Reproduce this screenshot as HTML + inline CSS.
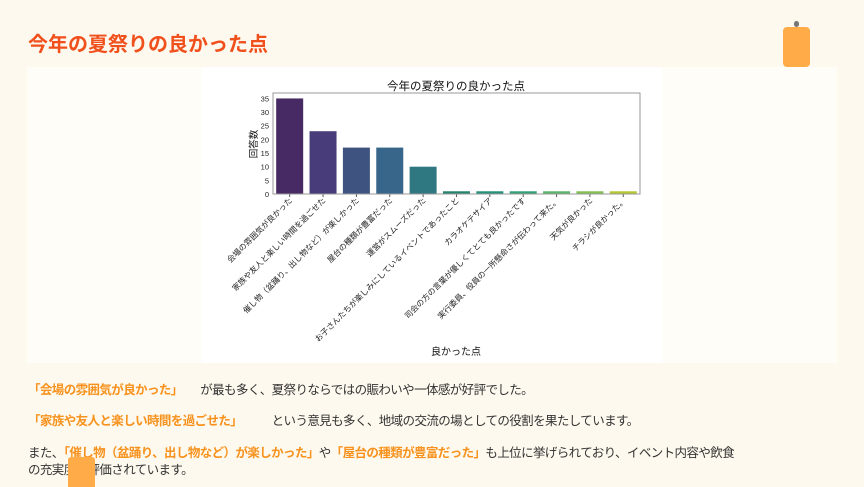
<!DOCTYPE html>
<html><head><meta charset="utf-8"><style>
body{margin:0;width:864px;height:486px;background:#fef9ee;font-family:"Liberation Sans","Noto Sans CJK JP",sans-serif;position:relative;overflow:hidden}
h1{position:absolute;left:28px;top:28px;margin:0;font-size:20px;font-weight:bold;color:#f0501c;letter-spacing:0px}
.panel{position:absolute;left:27px;top:67px;width:810px;height:296px;background:#fffdf7}
.chart{position:absolute;left:202px;top:67px;width:460px;height:296px;background:#fff}
.t{position:absolute;left:28px;font-size:12.5px;color:#333;white-space:nowrap;letter-spacing:-0.6px}
.o{color:#f7921e;font-weight:bold}
</style></head><body>
<h1>今年の夏祭りの良かった点</h1>
<div style="position:absolute;left:783px;top:27px;width:27px;height:40px;background:#ffac48;border-radius:4px"></div>
<div style="position:absolute;left:794px;top:21px;width:5px;height:6px;background:#777;border-radius:3px"></div>
<div class="panel"></div>
<div class="chart"></div>
<svg style="position:absolute;left:0;top:0" width="864" height="486" font-family="Liberation Sans,Noto Sans CJK JP,sans-serif">
<text x="456" y="90" font-size="11.5" text-anchor="middle" fill="#111">今年の夏祭りの良かった点</text>
<g id="bars"></g>
<rect x="273" y="93" width="367" height="101" fill="none" stroke="#999" stroke-width="1"/>
<g font-size="7.5" fill="#222" text-anchor="end">
<text x="269" y="197">0</text><text x="269" y="183.4">5</text><text x="269" y="169.7">10</text><text x="269" y="156">15</text><text x="269" y="142.4">20</text><text x="269" y="128.7">25</text><text x="269" y="115">30</text><text x="269" y="101.5">35</text>
</g>
<text transform="translate(257,144) rotate(-90)" font-size="9.5" text-anchor="middle" fill="#111">回答数</text>
<text x="456" y="355" font-size="10" text-anchor="middle" fill="#111">良かった点</text>
<g id="labels" font-size="8" fill="#222" text-anchor="end"></g>
</svg>
<div class="t" style="top:379px"><span class="o">「会場の雰囲気が良かった」</span>　　が最も多く、夏祭りならではの賑わいや一体感が好評でした。</div>
<div class="t" style="top:410px"><span class="o">「家族や友人と楽しい時間を過ごせた」</span>　　　という意見も多く、地域の交流の場としての役割を果たしています。</div>
<div class="t" style="top:442px">また、<span class="o">「催し物（盆踊り、出し物など）が楽しかった」</span>や<span class="o">「屋台の種類が豊富だった」</span>も上位に挙げられており、イベント内容や飲食</div>
<div class="t" style="top:459px">の充実度も評価されています。</div>
<div style="position:absolute;left:68px;top:457px;width:27px;height:30px;background:#ffac48;border-radius:3px 3px 0 0"></div>
<script>
var v=[35,23,17,17,10,1,1,1,1,1,1];
var c=["#472a63","#483d7a","#3e5380","#38668a","#2f7882","#25836e","#26907a","#35a077","#5cb46a","#83c052","#b7c731"];
var L=["会場の雰囲気が良かった","家族や友人と楽しい時間を過ごせた","催し物（盆踊り、出し物など）が楽しかった","屋台の種類が豊富だった","運営がスムーズだった","お子さんたちが楽しみにしているイベントであったこと","カラオケテサイア","司会の方の言葉が優しくてとても良かったです","実行委員、役員の一所懸命さが伝わって来た。","天気が良かった","チラシが良かった。"];
var ns="http://www.w3.org/2000/svg",b=document.getElementById("bars"),l=document.getElementById("labels");
for(var i=0;i<11;i++){var cx=273+33.36*(i+.5),h=v[i]*2.73;
var r=document.createElementNS(ns,"rect");r.setAttribute("x",cx-13.5);r.setAttribute("y",194-h);r.setAttribute("width",27);r.setAttribute("height",h);r.setAttribute("fill",c[i]);b.appendChild(r);
var k=document.createElementNS(ns,"line");k.setAttribute("x1",cx);k.setAttribute("x2",cx);k.setAttribute("y1",194);k.setAttribute("y2",197);k.setAttribute("stroke","#555");b.appendChild(k);
var t=document.createElementNS(ns,"text");t.setAttribute("transform","translate("+(cx+3)+",201) rotate(-45)");t.textContent=L[i];l.appendChild(t);}
</script>
</body></html>
